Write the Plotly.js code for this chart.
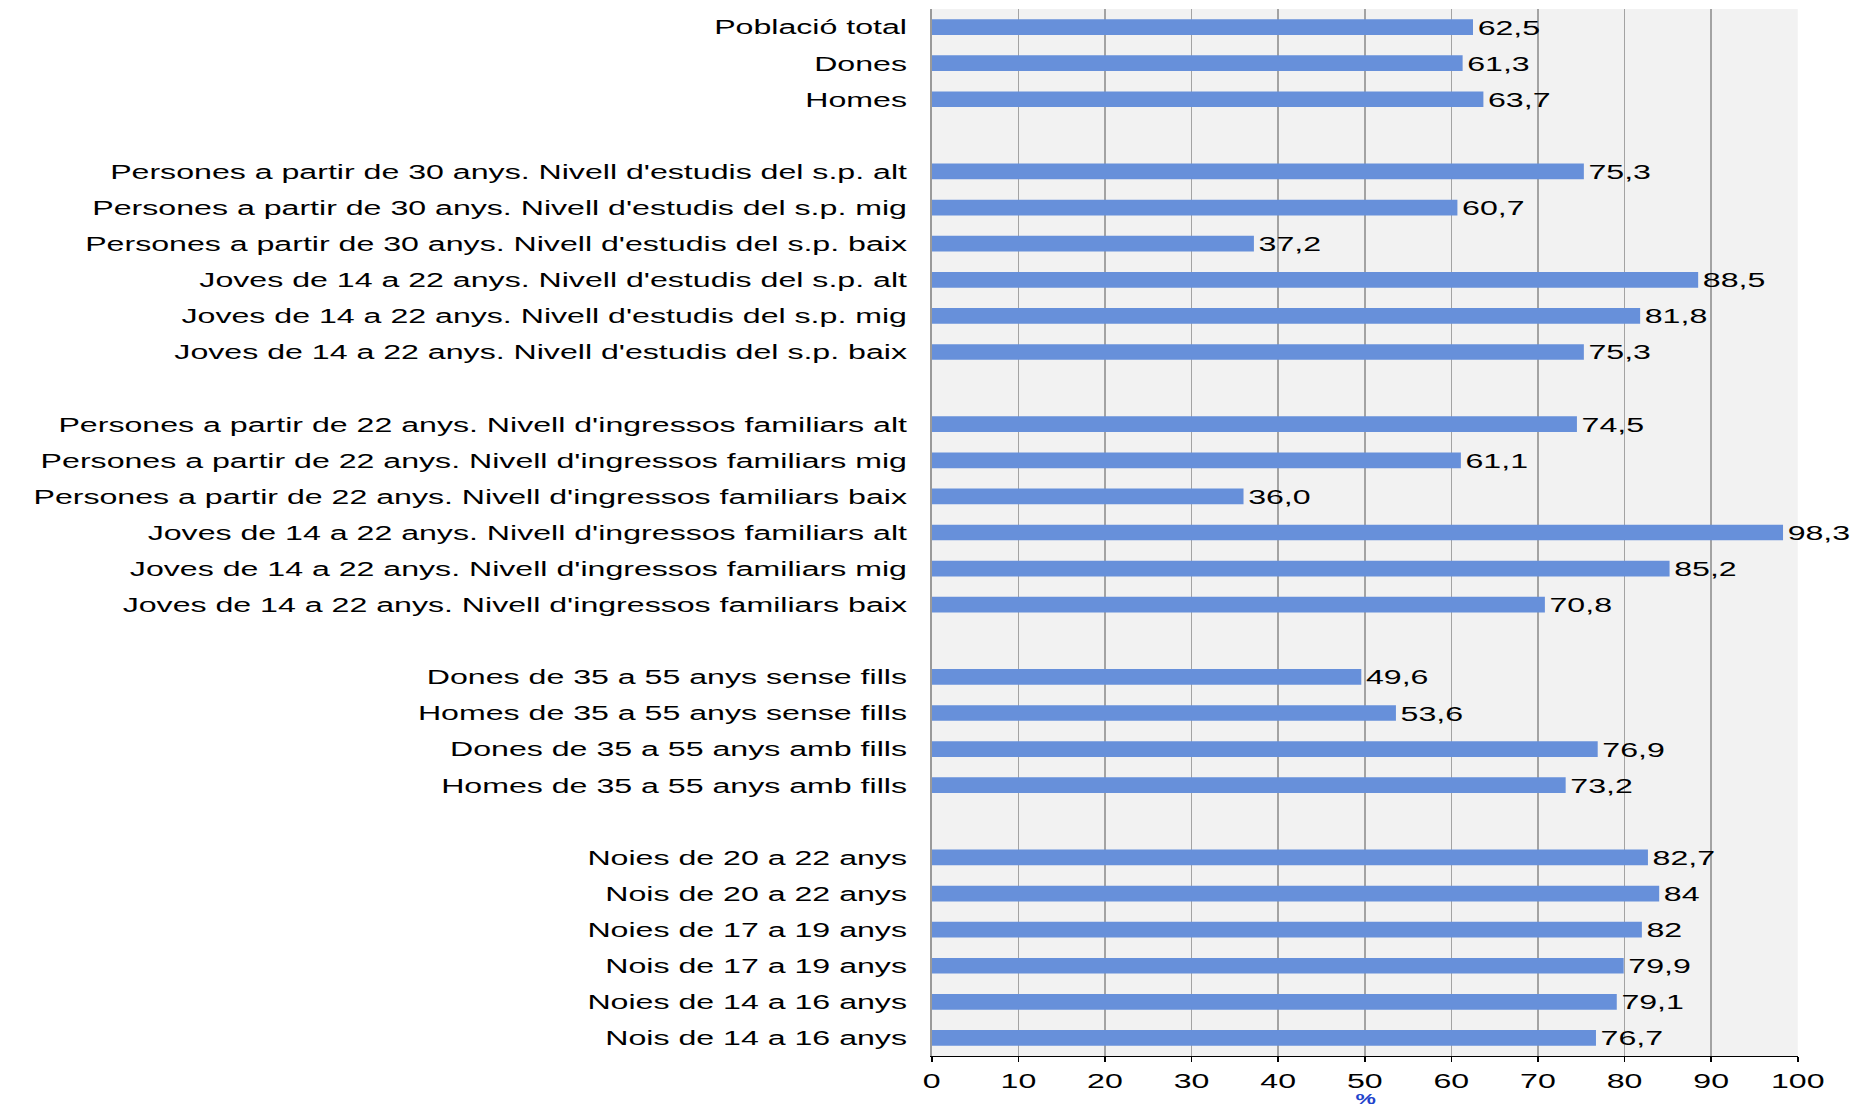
<!DOCTYPE html>
<html>
<head>
<meta charset="utf-8">
<script src="https://cdn.plot.ly/plotly-3.0.1.min.js"></script>
<style>
  html, body { margin: 0; padding: 0; background: #ffffff; overflow: hidden; }
  #chart { width: 1210.5px; height: 1108px; transform: scaleX(1.53); transform-origin: 0 0; }
</style>
</head>
<body>
<div id="chart"></div>
<script>
// Category labels, top to bottom (blank entries are the group separators)
const categories = [
  "Població total",
  "Dones",
  "Homes",
  " ",
  "Persones a partir de 30 anys. Nivell d'estudis del s.p. alt",
  "Persones a partir de 30 anys. Nivell d'estudis del s.p. mig",
  "Persones a partir de 30 anys. Nivell d'estudis del s.p. baix",
  "Joves de 14 a 22 anys. Nivell d'estudis del s.p. alt",
  "Joves de 14 a 22 anys. Nivell d'estudis del s.p. mig",
  "Joves de 14 a 22 anys. Nivell d'estudis del s.p. baix",
  "  ",
  "Persones a partir de 22 anys. Nivell d'ingressos familiars alt",
  "Persones a partir de 22 anys. Nivell d'ingressos familiars mig",
  "Persones a partir de 22 anys. Nivell d'ingressos familiars baix",
  "Joves de 14 a 22 anys. Nivell d'ingressos familiars alt",
  "Joves de 14 a 22 anys. Nivell d'ingressos familiars mig",
  "Joves de 14 a 22 anys. Nivell d'ingressos familiars baix",
  "   ",
  "Dones de 35 a 55 anys sense fills",
  "Homes de 35 a 55 anys sense fills",
  "Dones de 35 a 55 anys amb fills",
  "Homes de 35 a 55 anys amb fills",
  "    ",
  "Noies de 20 a 22 anys",
  "Nois de 20 a 22 anys",
  "Noies de 17 a 19 anys",
  "Nois de 17 a 19 anys",
  "Noies de 14 a 16 anys",
  "Nois de 14 a 16 anys"
];

const values = [
  62.5, 61.3, 63.7,
  null,
  75.3, 60.7, 37.2, 88.5, 81.8, 75.3,
  null,
  74.5, 61.1, 36.0, 98.3, 85.2, 70.8,
  null,
  49.6, 53.6, 76.9, 73.2,
  null,
  82.7, 84, 82, 79.9, 79.1, 76.7
];

const valueLabels = [
  "62,5", "61,3", "63,7",
  "",
  "75,3", "60,7", "37,2", "88,5", "81,8", "75,3",
  "",
  "74,5", "61,1", "36,0", "98,3", "85,2", "70,8",
  "",
  "49,6", "53,6", "76,9", "73,2",
  "",
  "82,7", "84", "82", "79,9", "79,1", "76,7"
];

const xTicks = [0, 10, 20, 30, 40, 50, 60, 70, 80, 90, 100];
const xAxisTitle = "%";

const FONT = "Liberation Sans, Arial, Helvetica, sans-serif";

const trace = {
  type: "bar",
  orientation: "h",
  y: categories,
  x: values,
  text: valueLabels,
  textposition: "outside",
  textfont: { family: FONT, size: 21, color: "#000000" },
  constraintext: "none",
  cliponaxis: false,
  marker: { color: "#6790da", line: { width: 0 } },
  hoverinfo: "none"
};

const layout = {
  width: 1210.5,
  height: 1108,
  margin: { l: 608.5, r: 36, t: 9, b: 52, pad: 0 },
  paper_bgcolor: "#ffffff",
  plot_bgcolor: "#f2f2f2",
  showlegend: false,
  bargap: 0.565,
  font: { family: FONT, size: 21, color: "#000000" },
  xaxis: {
    range: [0, 100],
    tickvals: xTicks,
    ticktext: xTicks.map(String),
    showgrid: true,
    gridcolor: "#a3a3a3",
    gridwidth: 1,
    zeroline: false,
    showline: true,
    linecolor: "#000000",
    linewidth: 1,
    ticks: "outside",
    ticklen: 5,
    tickcolor: "#000000",
    tickwidth: 1,
    ticklabelstandoff: 1,
    tickfont: { family: FONT, size: 21, color: "#000000" },
    automargin: false,
    fixedrange: true
  },
  yaxis: {
    type: "category",
    categoryorder: "array",
    categoryarray: categories,
    autorange: "reversed",
    showgrid: false,
    zeroline: false,
    showline: true,
    linecolor: "#9a9a9a",
    linewidth: 1,
    ticks: "",
    ticklabelstandoff: 11,
    tickfont: { family: FONT, size: 21, color: "#000000" },
    automargin: false,
    fixedrange: true
  },
  annotations: [{
    text: "<b>" + xAxisTitle + "</b>",
    xref: "x", x: 50,
    yref: "paper", y: 0,
    xanchor: "center", yanchor: "bottom",
    yshift: -52,
    showarrow: false,
    borderpad: 0,
    font: { family: FONT, size: 15, color: "#1f44cc" }
  }]
};

Plotly.newPlot("chart", [trace], layout, { displayModeBar: false, staticPlot: true });
</script>
</body>
</html>
